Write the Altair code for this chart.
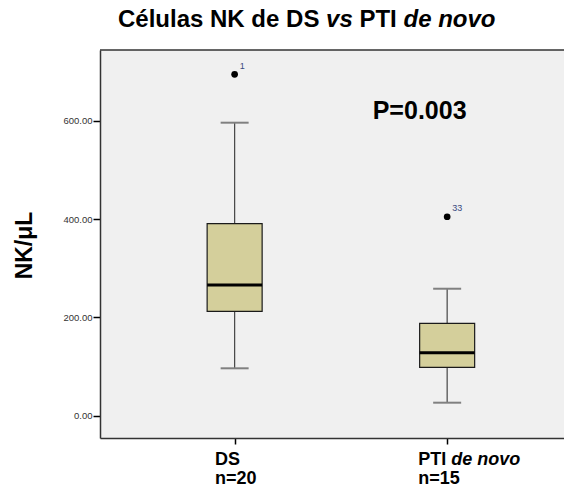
import altair as alt
import pandas as pd

# ---- data ----
groups = ["DS", "PTI de novo"]
group_n = ["n=20", "n=15"]
x_pos = [1, 2]
whisker_low = [96.5, 26.5]
q1 = [212.5, 98.5]
median = [266.0, 128.3]
q3 = [391.0, 188.0]
whisker_high = [596.5, 258.5]
outlier_value = [695.0, 405.0]
outlier_case = ["1", "33"]
y_ticks = [0, 200, 400, 600]
p_value_text = "P=0.003"

FONT = "Liberation Sans"

box_df = pd.DataFrame(dict(group=groups, pos=x_pos, lo=whisker_low, q1=q1,
                           med=median, q3=q3, hi=whisker_high))
out_df = pd.DataFrame(dict(pos=x_pos, val=outlier_value, case=outlier_case))

W, H = 464, 388
xs = alt.Scale(domain=[0.39, 0.39 + W / 217.2], nice=False, zero=False)
ys = alt.Scale(domain=[-45.4, 744.5], nice=False, zero=False)

X = alt.X("pos:Q", scale=xs,
          axis=alt.Axis(values=x_pos, labels=False, title=None, grid=False,
                        domain=True, domainColor="#333333", domainWidth=1.5,
                        tickSize=6, tickColor="black", tickWidth=1.5))
Yax = alt.Axis(values=y_ticks, format=".2f", title=None, grid=False,
               domain=True, domainColor="#333333", domainWidth=1.5,
               tickSize=7, tickColor="black", tickWidth=1.5, labelFontSize=9.5,
               labelColor="#333333", labelPadding=1, labelFont=FONT)

base = alt.Chart(box_df)

top_border = alt.Chart(pd.DataFrame({"k": [0]})).mark_rule(
    color="#333333", strokeWidth=1.5).encode(
    x=alt.value(0), x2=alt.value(W), y=alt.value(0))

whiskers = base.mark_rule(color="#444444", strokeWidth=1.2).encode(
    x=X, y=alt.Y("lo:Q", scale=ys, axis=Yax), y2="hi:Q")
boxes = base.mark_bar(size=55, fill="#d4cf9b", stroke="#1a1a1a", strokeWidth=1.2).encode(
    x=X, y=alt.Y("q1:Q", scale=ys, axis=Yax), y2="q3:Q")
medians = base.mark_tick(orient="horizontal", size=55, thickness=3, color="black", opacity=1).encode(
    x=X, y=alt.Y("med:Q", scale=ys, axis=Yax))
cap_lo = base.mark_tick(orient="horizontal", size=28, thickness=2, color="#808080", opacity=1).encode(
    x=X, y=alt.Y("lo:Q", scale=ys, axis=Yax))
cap_hi = base.mark_tick(orient="horizontal", size=28, thickness=2, color="#808080", opacity=1).encode(
    x=X, y=alt.Y("hi:Q", scale=ys, axis=Yax))

outc = alt.Chart(out_df)
points = outc.mark_point(filled=True, size=45, color="black", opacity=1).encode(
    x=X, y=alt.Y("val:Q", scale=ys, axis=Yax))
case_labels = outc.mark_text(align="left", baseline="middle", dx=5, dy=-8.5,
                             fontSize=9, font=FONT, color="#3a4a80").encode(
    x=X, y=alt.Y("val:Q", scale=ys, axis=Yax), text="case:N")


def txt(s, x, y, size, weight="bold", style="normal", angle=0, align="left"):
    return alt.Chart(pd.DataFrame({"t": [s]})).mark_text(
        align=align, baseline="alphabetic", fontSize=size, font=FONT,
        fontWeight=weight, fontStyle=style, angle=angle, color="black").encode(
        x=alt.value(x), y=alt.value(y), text="t:N")


# title pieces (mixed italic)
TY = -23.5
title_parts = [
    txt("Células NK de DS", 18, TY, 24),
    txt("vs", 226.1, TY, 24, style="italic"),
    txt("PTI", 259.4, TY, 24),
    txt("de novo", 303.5, TY, 24, style="italic"),
]

# category labels
L1, L2 = 414.5, 434.0
cat_labels = [
    txt(groups[0], 115, L1, 18),
    txt(group_n[0], 115, L2, 18),
    txt("PTI", 318.3, L1, 18),
    txt("de novo", 351.3, L1, 18, style="italic"),
    txt(group_n[1], 318.3, L2, 18),
]

ytitle = txt("NK/\u03bcL", -68.3, 195.5, 23, angle=270, align="center")
ptext = txt(p_value_text, 272.7, 69.3, 25)

chart = alt.layer(
    top_border, whiskers, boxes, medians, cap_lo, cap_hi, points, case_labels,
    ptext, ytitle, *title_parts, *cat_labels
).properties(
    width=W, height=H,
    autosize=alt.AutoSizeParams(type="none"),
    padding={"left": 92, "top": 42, "right": 0, "bottom": 47},
    background="white",
).configure_view(
    fill="#f0f0f0", stroke="transparent", strokeWidth=0
)

chart.save("out.html", embed_options={"renderer": "svg", "actions": False})
